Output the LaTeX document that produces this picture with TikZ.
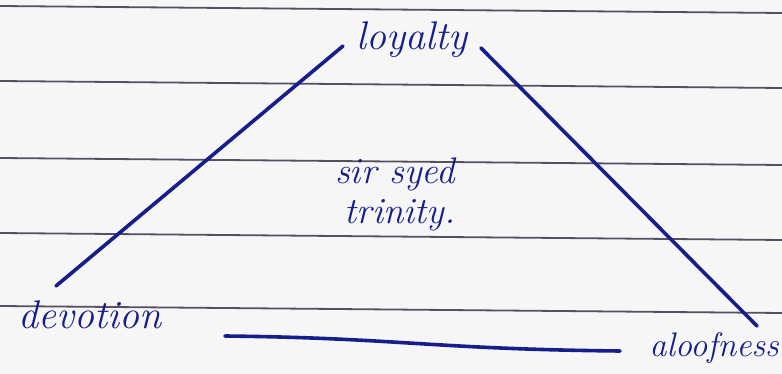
\documentclass[tikz,border=0pt]{standalone}
\usepackage{tikz}
\usetikzlibrary{positioning}
\definecolor{ink}{RGB}{22,30,140}
\definecolor{rulegray}{RGB}{85,80,95}
\definecolor{paper}{RGB}{246,246,246}

\begin{document}
\begin{tikzpicture}[x=1pt,y=-1pt,
    ruleline/.style={draw=rulegray, line width=1.8pt},
    penline/.style={draw=ink, line width=3.6pt, line cap=round},
    word/.style={text=ink, inner sep=0pt, anchor=base, font=\fontsize{40}{31}\selectfont\itshape}
  ]
  % paper and its ruling
  \fill[paper] (0,0) rectangle (782,374);
  \useasboundingbox (0,0) rectangle (782,374);
  \foreach \ya/\yb in {6/13, 81/88, 158/165, 233/240, 306/313}
    \draw[ruleline] (0,\ya) -- (782,\yb);

  % the three corners
  \node[word] (loyalty) at (412,50) {loyalty};
  \node[word] (devotion) at (90,328) {devotion};
  \node[word, anchor=base east, font=\fontsize{34}{31}\selectfont\itshape] (aloofness) at (779,356) {aloofness};
  \node[word, font=\fontsize{37}{31}\selectfont\itshape] (sirsyed) at (395,184) {sir syed};
  \node[word, font=\fontsize{37}{31}\selectfont\itshape] (trinity) at (400,224) {trinity.};

  % line ends
  \coordinate (devTop) at (56,286);
  \coordinate (loyLeft) at (343,46);
  \coordinate (loyRight) at (481,48);
  \coordinate (alooTop) at (757,326);
  \coordinate (baseL) at (225,336);
  \coordinate (baseR) at (620,351);

  \draw[penline] (devTop) -- (loyLeft);
  \draw[penline] (loyRight) -- (alooTop);
  \draw[penline] (baseL) .. controls (400,338) and (430,349) .. (baseR);
\end{tikzpicture}
\end{document}
